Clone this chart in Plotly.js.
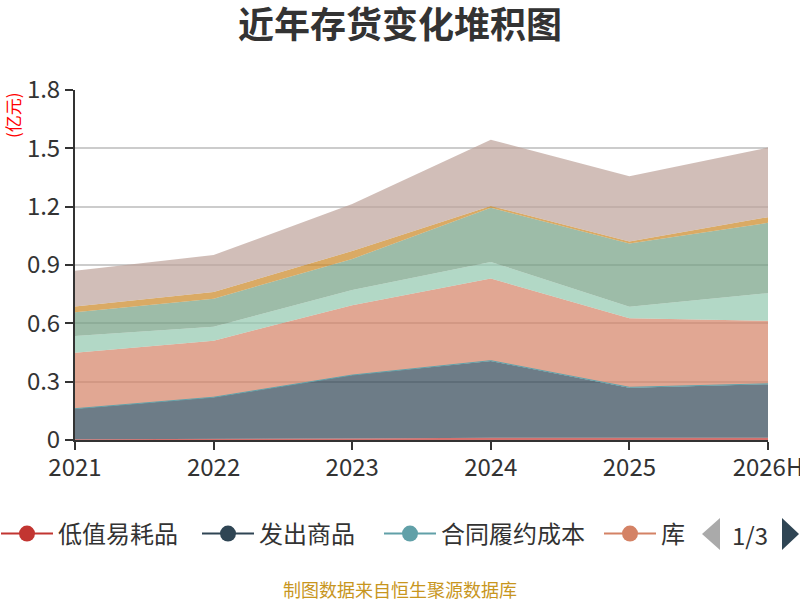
<!DOCTYPE html>
<html>
<head>
<meta charset="utf-8">
<script src="https://cdn.plot.ly/plotly-3.0.1.min.js"></script>
<style>
    html, body { margin: 0; padding: 0; background: #fff; }
    #chart { width: 800px; height: 600px; }
</style>
</head>
<body>
<div id="chart"></div>
<script>
// 年份
const years = ['2021', '2022', '2023', '2024', '2025', '2026H'];

// 各项存货（亿元），自下而上堆积
const diZhiYiHaoPin = [0.004, 0.005, 0.008, 0.012, 0.012, 0.012];
const faChuShangPin = [0.157, 0.215, 0.326, 0.394, 0.257, 0.275];
const heTongLvYue = [0, 0, 0, 0.002, 0.002, 0.002];
const kuCunShangPin = [0.288, 0.291, 0.359, 0.422, 0.355, 0.324];
const weiTuoJiaGong = [0.086, 0.072, 0.079, 0.086, 0.059, 0.142];
const yuanCaiLiao = [0.122, 0.144, 0.159, 0.278, 0.325, 0.362];
const zaiChanPin = [0.029, 0.034, 0.041, 0.010, 0.011, 0.029];
const ziZhiBanChengPin = [0.185, 0.190, 0.242, 0.340, 0.336, 0.358];

const seriesNames = ['低值易耗品', '发出商品', '合同履约成本', '库存商品', '委托加工物资', '原材料', '在产品', '自制半成品'];
// 图例只显示第一页，第四项被截断
const legendLabels = ['低值易耗品', '发出商品', '合同履约成本', '库'];
const seriesValues = [diZhiYiHaoPin, faChuShangPin, heTongLvYue, kuCunShangPin, weiTuoJiaGong, yuanCaiLiao, zaiChanPin, ziZhiBanChengPin];
const colors = ['#c23531', '#2f4554', '#61a0a8', '#d48265', '#91c7ae', '#749f83', '#ca8622', '#bda29a'];

const FONT = '"Noto Sans CJK SC", "Noto Sans", sans-serif';

function hexToRgba(hex, a) {
    const r = parseInt(hex.slice(1, 3), 16);
    const g = parseInt(hex.slice(3, 5), 16);
    const b = parseInt(hex.slice(5, 7), 16);
    return 'rgba(' + r + ',' + g + ',' + b + ',' + a + ')';
}

// paper坐标换算（绘图区 75..768 x 90..440）
const px = (x) => (x - 75) / 693;
const py = (y) => (440 - y) / 350;

// 每个图例项的起点（像素）
const legendStarts = [-4, 197, 379, 599];

window.onload = () => {
    const traces = [];
    seriesValues.forEach((values, i) => {
        traces.push({
            x: years,
            y: values,
            name: seriesNames[i],
            type: 'scatter',
            mode: 'lines',
            stackgroup: 'one',
            line: { width: i === 2 ? 1 : 0, color: colors[i] },
            fillcolor: hexToRgba(colors[i], 0.7),
            showlegend: false,
            hovertemplate: seriesNames[i] + ': %{y}<extra></extra>'
        });
    });
    legendLabels.forEach((label, i) => {
        traces.push({
            x: [null],
            y: [null],
            name: label,
            type: 'scatter',
            mode: 'lines+markers',
            line: { width: 2, color: colors[i] },
            marker: { size: 16, color: colors[i] },
            showlegend: true,
            legend: i === 0 ? 'legend' : 'legend' + (i + 1)
        });
    });

    const axisCommon = {
        showline: true,
        linecolor: '#333',
        linewidth: 2,
        ticks: 'outside',
        ticklen: 8,
        tickwidth: 2,
        tickcolor: '#333',
        tickfont: { family: FONT, size: 24, color: '#333' },
        zeroline: false,
        fixedrange: true,
        automargin: false
    };

    const layout = {
        width: 800,
        height: 600,
        margin: { l: 75, r: 32, t: 90, b: 160, autoexpand: false },
        paper_bgcolor: '#fff',
        plot_bgcolor: '#fff',
        font: { family: FONT, color: '#333' },
        title: {
            text: '<b>近年存货变化堆积图</b>',
            font: { family: FONT, size: 36, color: '#333' },
            x: 0.5,
            xanchor: 'center',
            y: 0.958,
            yanchor: 'middle'
        },
        xaxis: Object.assign({}, axisCommon, {
            type: 'category',
            range: [0, 5],
            showgrid: false,
            ticklabelstandoff: -3
        }),
        yaxis: Object.assign({}, axisCommon, {
            range: [0, 1.8],
            tickvals: [0, 0.3, 0.6, 0.9, 1.2, 1.5, 1.8],
            ticktext: ['0', '0.3', '0.6', '0.9', '1.2', '1.5', '1.8'],
            showgrid: true,
            gridcolor: '#cccccc',
            gridwidth: 2
        }),
        showlegend: true,
        annotations: [
            {
                text: '(亿元)',
                xref: 'paper', yref: 'paper',
                x: px(13), y: py(115),
                xanchor: 'center', yanchor: 'middle',
                textangle: -90,
                showarrow: false,
                font: { family: FONT, size: 17, color: '#ff0000' }
            },
            {
                text: '1/3',
                xref: 'paper', yref: 'paper',
                x: px(750), y: py(534),
                xanchor: 'center', yanchor: 'middle',
                showarrow: false,
                font: { family: FONT, size: 24, color: '#333' }
            },
            {
                text: '制图数据来自恒生聚源数据库',
                xref: 'paper', yref: 'paper',
                x: px(400), y: py(589),
                xanchor: 'center', yanchor: 'middle',
                showarrow: false,
                font: { family: FONT, size: 18, color: '#c8961e' }
            }
        ],
        shapes: [
            {
                type: 'path', xref: 'paper', yref: 'paper',
                path: 'M ' + px(702) + ' ' + py(534) + ' L ' + px(720) + ' ' + py(518) +
                    ' L ' + px(720) + ' ' + py(550) + ' Z',
                fillcolor: '#aaaaaa', line: { width: 0 }
            },
            {
                type: 'path', xref: 'paper', yref: 'paper',
                path: 'M ' + px(782) + ' ' + py(518) + ' L ' + px(799) + ' ' + py(534) +
                    ' L ' + px(782) + ' ' + py(550) + ' Z',
                fillcolor: '#2f4554', line: { width: 0 }
            }
        ]
    };

    legendStarts.forEach((start, i) => {
        layout[i === 0 ? 'legend' : 'legend' + (i + 1)] = {
            orientation: 'h',
            x: px(start),
            xanchor: 'left',
            y: py(534),
            yanchor: 'middle',
            itemwidth: 52,
            font: { family: FONT, size: 24, color: '#333' },
            bgcolor: 'rgba(0,0,0,0)'
        };
    });

    Plotly.newPlot(document.getElementById('chart'), traces, layout, { displayModeBar: false, staticPlot: true });
};
</script>
</body>
</html>
